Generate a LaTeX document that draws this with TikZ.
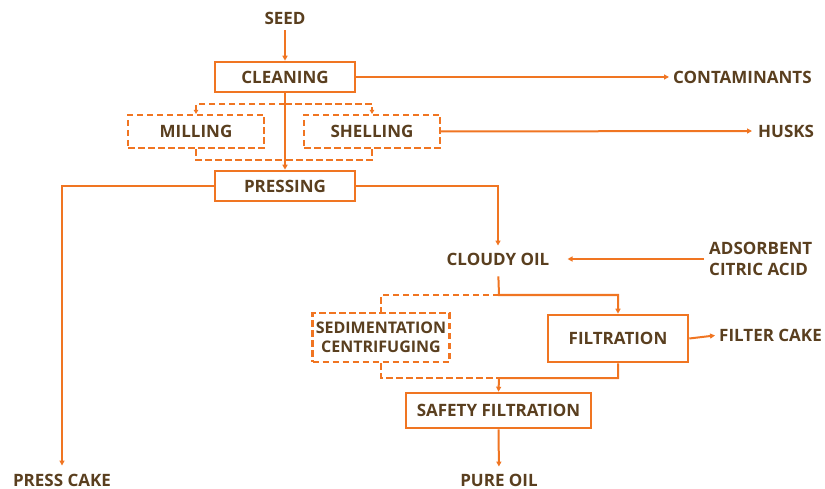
\documentclass[tikz,border=0pt]{standalone}
\usepackage{fontspec}
\setmainfont{Open Sans}
\usetikzlibrary{arrows.meta}
\definecolor{org}{HTML}{F07522}
\definecolor{brn}{HTML}{5A3F1F}
\begin{document}
\begin{tikzpicture}[x=1pt,y=-1pt,
  every node/.style={font=\fontsize{17}{19}\selectfont\bfseries, text=brn, inner sep=0pt},
  box/.style={draw=org, line width=2.6pt, minimum width=140pt, minimum height=30pt},
  dbox/.style={draw=org, line width=2.2pt, dash pattern=on 6.5pt off 3.5pt},
  conn/.style={draw=org, line width=2pt},
  arr/.style={conn, -{Triangle[length=5pt,width=5pt]}},
  dconn/.style={conn, dash pattern=on 6.5pt off 3.5pt},
  darr/.style={dconn, -{Triangle[length=4pt,width=4.5pt]}}]
\useasboundingbox (0,0) rectangle (825,489);
% nodes
\node (seed) at (285,18) {SEED};
\node[box] (clean) at (285,77) {CLEANING};
\node[dbox, minimum width=136pt, minimum height=33pt] (mill) at (196,131.5) {MILLING};
\node[dbox, minimum width=136pt, minimum height=33pt] (shell) at (372,131.5) {SHELLING};
\node[box] (press) at (285,186) {PRESSING};
\node[anchor=west] (cont) at (673,77) {CONTAMINANTS};
\node[anchor=west] (husks) at (758,131) {HUSKS};
\node (cloudy) at (498,259) {CLOUDY OIL};
\node[anchor=west, align=left] (adsorb) at (709,259) {ADSORBENT\\[2pt]CITRIC ACID};
\node[dbox, minimum width=137pt, minimum height=49pt, align=center, font=\fontsize{16}{19}\selectfont\bfseries] (sed) at (381,337.5) {SEDIMENTATION\\CENTRIFUGING};
\node[box, minimum height=47pt] (filt) at (618,338.5) {FILTRATION};
\node[anchor=west] (fcake) at (719,335) {FILTER CAKE};
\node[box, minimum width=185pt, minimum height=35pt] (safe) at (498.5,410.5) {SAFETY FILTRATION};
\node (presscake) at (62,480) {PRESS CAKE};
\node (pure) at (499,480) {PURE OIL};
% junctions
\coordinate (ms) at (285,104);
\coordinate (mj) at (285,160);
\coordinate (cj) at (499,295);
\coordinate (sj) at (499,378);
% connectors
\draw[arr, shorten <=6pt] (seed) -- (clean);
\draw[arr, shorten >=4pt] (clean.east) -- (cont.west);
\draw[darr] (ms) -| (mill.north);
\draw[darr] (ms) -| (shell.north);
\draw[dconn] (mill.south) |- (mj);
\draw[dconn] (shell.south) |- (mj);
\draw[arr] (clean.south) -- (press.north);
\draw[arr, shorten >=6pt] (shell.east) -- (husks.west);
\draw[arr, shorten >=8pt] (press.west) -| (presscake.north);
\draw[arr, shorten >=7pt] (press.east) -| (cloudy.north);
\draw[arr, shorten <=5pt, shorten >=18pt] (adsorb.west) -- (cloudy.east);
\draw[arr, shorten <=11pt] (cloudy.south) -- (cj) -| (filt.north);
\draw[dconn] (cj) -| (sed.north);
\draw[arr, shorten >=4pt] (filt.east) -- (fcake.west);
\draw[arr] (filt.south) |- (sj) -- (safe.north);
\draw[dconn] (sed.south) |- (sj);
\draw[arr, shorten >=7pt] (safe.south) -- (pure.north);
\end{tikzpicture}
\end{document}
